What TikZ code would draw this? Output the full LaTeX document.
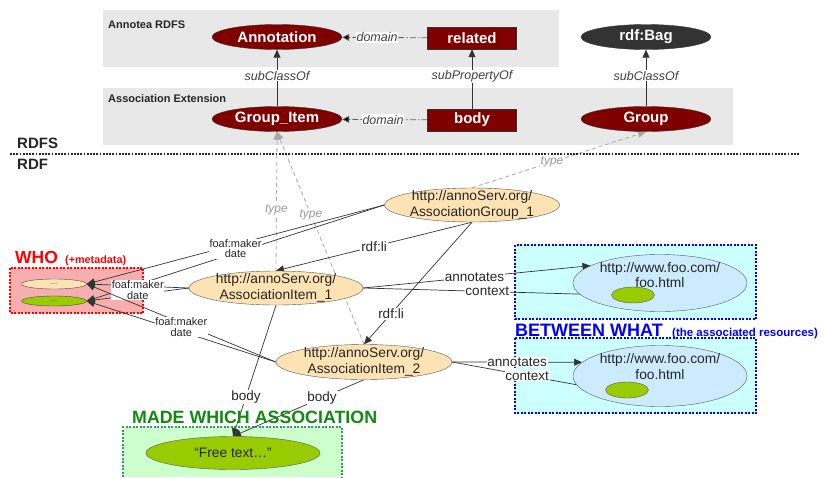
\documentclass[tikz,border=0pt]{standalone}
\usepackage{fontspec}
\setmainfont{Liberation Sans}
\usetikzlibrary{shapes.geometric,arrows.meta,calc}
\pgfdeclarelayer{back}
\pgfdeclarelayer{mid}
\pgfsetlayers{back,mid,main}
\definecolor{darkred}{HTML}{800000}
\definecolor{bagc}{HTML}{333333}
\definecolor{greybg}{HTML}{E8E8E8}
\definecolor{resfill}{HTML}{FDE3B4}
\definecolor{whofill}{HTML}{F7AEAE}
\definecolor{cyanfill}{HTML}{CCFFFF}
\definecolor{foofill}{HTML}{CCEBFF}
\definecolor{limec}{HTML}{99CC00}
\definecolor{greenfill}{HTML}{CCFFCC}
\definecolor{greenline}{HTML}{339966}
\definecolor{greentext}{HTML}{108A10}
\definecolor{typec}{HTML}{A8A8A8}
\definecolor{linec}{HTML}{333333}
\tikzset{
  cls/.style={ellipse, draw=black!80, fill=darkred, text=white, font=\fontsize{15}{15}\selectfont\bfseries, minimum width=130pt, minimum height=25pt, inner sep=0pt},
  prop/.style={rectangle, draw=black!80, fill=darkred, text=white, font=\fontsize{15}{15}\selectfont\bfseries, minimum width=89pt, minimum height=22pt, inner sep=0pt},
  res/.style={ellipse, draw=black!65, fill=resfill, minimum width=175pt, minimum height=34pt, inner sep=0pt},
  rtext/.style={font=\fontsize{13.8}{15.5}\selectfont, align=center, inner sep=0pt, text=black!85},
  fooell/.style={ellipse, draw=black!65, fill=foofill, minimum width=174pt, minimum height=57pt, inner sep=0pt},
  limeell/.style={ellipse, draw=black!65, fill=limec, inner sep=0pt},
  sml/.style={ellipse, draw=black!70, minimum width=65pt, minimum height=10pt, inner sep=0pt, font=\fontsize{8}{8}\selectfont, text=black!70},
  arr/.style={draw=linec, line width=0.7pt, -{Triangle[length=8pt,width=7pt]}},
  garr/.style={draw=typec, dash pattern=on 4pt off 3pt, line width=0.8pt, -{Triangle[length=8pt,width=7pt,fill=typec]}},
  darr/.style={draw=black!60, dash pattern=on 6pt off 2pt on 1.5pt off 2pt, line width=0.8pt, -{Triangle[length=7pt,width=7pt,fill=black]}},
  lbl/.style={fill=white, inner sep=0.8pt, font=\fontsize{13.5}{14}\selectfont, text=black!85},
  ilbl/.style={fill=white, inner sep=0.8pt, font=\fontsize{12.5}{13}\selectfont\itshape, text=black!75},
  tlbl/.style={fill=white, inner sep=0.8pt, font=\fontsize{12}{13}\selectfont\itshape, text=black!40},
  flbl/.style={fill=white, inner sep=0.5pt, align=center, font=\fontsize{11}{10.5}\selectfont, text=black!85},
  hdr/.style={anchor=base west, inner sep=0pt, font=\fontsize{11}{11}\selectfont\bfseries, text=black!85},
  big/.style={anchor=base west, inner sep=0pt, font=\fontsize{15}{15}\selectfont\bfseries, text=black!85},
  sepline/.style={line width=1.8pt, dash pattern=on 1.8pt off 1.4pt, draw=black!85},
  region/.style={line width=1.5pt, dash pattern=on 2pt off 1.5pt}
}
\begin{document}
\begin{tikzpicture}[x=1pt,y=-1pt]
\useasboundingbox (0,0) rectangle (824,477);

% ---------- region backgrounds ----------
\begin{pgfonlayer}{back}
\fill[white] (0,0) rectangle (824,477);
\fill[greybg] (103,10) rectangle (559,67);
\fill[greybg] (103,88) rectangle (733,145);
\filldraw[fill=whofill, draw=red, region] (10,268) rectangle (143,313);
\filldraw[fill=cyanfill, draw=blue, region] (515,245) rectangle (756,319);
\filldraw[fill=cyanfill, draw=blue, region] (515,338) rectangle (756,413);
\fill[greenfill] (123,427) rectangle (342,477);
\draw[draw=greenline, region] (123,477) -- (123,427) -- (342,427) -- (342,477);
\end{pgfonlayer}

% ---------- headings ----------
\node[hdr] (hA) at (108,28) {Annotea RDFS};
\node[hdr] (hB) at (108,102) {Association Extension};
\node[big] (rdfs) at (17,148) {RDFS};
\node[big] (rdf) at (17,169) {RDF};
\draw[sepline] (10,154) -- (800,154);

\node[anchor=base west, inner sep=0pt, text=red, font=\fontsize{17.5}{18}\selectfont\bfseries] (who) at (15,263) {WHO};
\node[anchor=base west, inner sep=0pt, text=red, font=\fontsize{10.8}{11}\selectfont\bfseries] (whom) at (65,263) {(+metadata)};
\node[anchor=base west, inner sep=0pt, text=blue, font=\fontsize{18}{18}\selectfont\bfseries] (betw) at (515,336) {BETWEEN WHAT};
\node[anchor=base west, inner sep=0pt, text=blue, font=\fontsize{11.5}{12}\selectfont\bfseries] (betwm) at (672,336) {(the associated resources)};
\node[anchor=base west, inner sep=0pt, text=greentext, font=\fontsize{17.8}{18}\selectfont\bfseries] (made) at (132,423) {MADE WHICH ASSOCIATION};

% ---------- schema ----------
\node[cls] (an) at (277,37) {Annotation};
\node[prop] (rel) at (472,38) {related};
\node[cls] (gi) at (277,119) {Group\_Item};
\node[prop] (bd) at (472,120) {body};
\node[cls, fill=bagc] (bag) at (646,37) {rdf:Bag};
\node[cls] (grp) at (646,119) {Group};

% ---------- instances ----------
\node[res, label={[rtext]center:{http://annoServ.org/\\AssociationGroup\_1}}] (g1) at (472,205) {};
\node[res, minimum width=174pt, label={[rtext]center:{http://annoServ.org/\\AssociationItem\_1}}] (i1) at (276,288) {};
\node[res, minimum width=176pt, minimum height=35pt, label={[rtext]center:{http://annoServ.org/\\AssociationItem\_2}}] (i2) at (364,362) {};

\node[sml, fill=resfill] (w1) at (54,284) {...};
\node[sml, fill=limec] (w2) at (54,301) {...};

\node[fooell, label={[rtext, yshift=8pt]center:{http://www.foo.com/\\foo.html}}] (fa1) at (660,283) {};
\node[limeell, minimum width=43pt, minimum height=16pt] (fg1) at (633,295) {};
\node[fooell, minimum height=61pt, label={[rtext, yshift=9.5pt]center:{http://www.foo.com/\\foo.html}}] (fa2) at (660,376) {};
\node[limeell, minimum width=43pt, minimum height=16pt] (fg2) at (627,390) {};

\node[limeell, minimum width=174pt, minimum height=33pt, font=\fontsize{13.8}{14}\selectfont, text=black!85] (ft) at (233,453) {“Free text…”};

\coordinate (wm) at ($(w1.east)!0.5!(w2.east)$);

% ---------- connectors ----------
\begin{pgfonlayer}{mid}
\draw[darr] (rel) -- node[ilbl,pos=0.59]{domain} (an);
\draw[darr] (bd) -- node[ilbl,pos=0.52]{domain} (gi);
\draw[arr] (gi) -- node[ilbl,pos=0.54]{subClassOf} (an);
\draw[arr] (bd) -- node[ilbl,pos=0.54]{subPropertyOf} (rel);
\draw[arr] (grp) -- node[ilbl,pos=0.54]{subClassOf} (bag);

\draw[garr] (i1.north) -- node[tlbl,pos=0.44]{type} (gi.south);
\draw[garr] (i2.north) -- node[tlbl,pos=0.61]{type} (gi.south);
\draw[garr] (g1.north) -- node[tlbl,pos=0.46]{type} (grp.south);

\draw[arr] (g1.south) -- node[lbl,pos=0.5]{rdf:li} (i1.north);
\draw[arr] (g1.south) -- node[lbl,pos=0.75]{rdf:li} (i2.north);

\draw[arr] (g1.west) -- (w1.east);
\draw[arr] (g1.west) -- (w2.east);
\path (g1.west) -- node[flbl,pos=0.5]{foaf:maker\\date} (wm);
\draw[arr] (i1.west) -- (w1.east);
\draw[arr] (i1.west) -- (w2.east);
\path (i1.west) -- node[flbl,pos=0.5]{foaf:maker\\date} (wm);
\draw[arr] (i2.west) -- (w1.east);
\draw[arr] (i2.west) -- (w2.east);
\path (i2.west) -- node[flbl,pos=0.5]{foaf:maker\\date} (wm);

\draw[arr] (i1.east) -- node[lbl,pos=0.49]{annotates} (fa1.166);
\draw[arr] (i1.east) -- node[lbl,pos=0.5]{context} (fg1.west);
\draw[arr] (i2.east) -- node[lbl,pos=0.5]{annotates} (fa2.170);
\draw[arr] (i2.east) -- node[lbl,pos=0.49]{context} (fg2.west);

\draw[arr] (i1.south) -- node[lbl,pos=0.7]{body} (ft.north);
\draw[arr] (i2.south) -- node[lbl,pos=0.32]{body} (ft.north);
\end{pgfonlayer}
\end{tikzpicture}
\end{document}
